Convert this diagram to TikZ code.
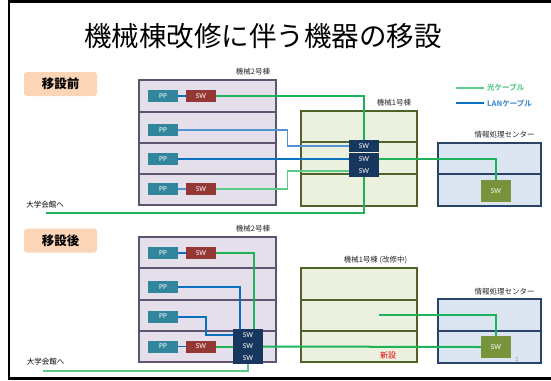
\documentclass[tikz,border=0pt]{standalone}
\usepackage{fontspec}
\setmainfont{Noto Sans CJK JP}
\newfontfamily\latf{Carlito}
\usetikzlibrary{calc}
\definecolor{ppc}{HTML}{31859C}
\definecolor{swr}{HTML}{953735}
\definecolor{swn}{HTML}{17375E}
\definecolor{swg}{HTML}{77933C}
\definecolor{b2fill}{HTML}{E5DFEC}
\definecolor{b2line}{HTML}{5F5470}
\definecolor{b1fill}{HTML}{EBF1DE}
\definecolor{b1line}{HTML}{4F6228}
\definecolor{icfill}{HTML}{DCE6F2}
\definecolor{icline}{HTML}{2A4468}
\definecolor{gline}{HTML}{1DB35A}
\definecolor{lgline}{HTML}{5CCB88}
\definecolor{bline}{HTML}{0A70C0}
\definecolor{lbline}{HTML}{4F93D2}
\definecolor{peach}{HTML}{FBD5B5}
\begin{document}
\begin{tikzpicture}[x=1pt,y=-1pt,
  box/.style={rectangle,inner sep=0pt,text=white,font=\latf\fontsize{7.5}{8}\selectfont},
  ppbox/.style={box,fill=ppc,minimum width=30pt,minimum height=12pt},
  swred/.style={box,fill=swr,minimum width=30pt,minimum height=12pt},
  swnavy/.style={box,fill=swn,minimum width=30pt,minimum height=12pt},
  swgreen/.style={box,fill=swg,minimum width=30pt,minimum height=22pt},
  brow/.style={rectangle,inner sep=0pt,line width=1.1pt},
  b2row/.style={brow,draw=b2line,fill=b2fill,minimum width=137pt},
  b1row/.style={brow,draw=b1line,fill=b1fill,minimum width=116pt},
  icrow/.style={brow,draw=icline,fill=icfill,minimum width=103pt},
  lbl/.style={inner sep=0pt,font=\fontsize{7.5}{8}\selectfont,text=black!85},
  tag/.style={rectangle,rounded corners=3pt,fill=peach,minimum width=73pt,minimum height=24pt,inner sep=0pt,font=\bfseries\fontsize{12.5}{13}\selectfont},
  gthin/.style={draw=gline,line width=1.1pt},
  lgthin/.style={draw=lgline,line width=1.1pt},
  bthin/.style={draw=bline,line width=1.1pt},
  lbthin/.style={draw=lbline,line width=1.1pt},
  gthick/.style={draw=gline,line width=2pt},
  bthick/.style={draw=bline,line width=2pt},
]
\useasboundingbox (0,0) rectangle (551,380);
% slide frame
\fill[black] (8,0) rectangle (551,2.5);
\fill[black] (7.7,0) rectangle (9.8,380);
\fill[black] (7.7,377) rectangle (551,380);

% title
\node[inner sep=0pt,font=\fontsize{27.5}{30}\selectfont] (title) at (263,36.5) {機械棟改修に伴う機器の移設};

% legend
\coordinate (lgA) at (456,88);
\node[anchor=west,inner sep=3pt,font=\bfseries\fontsize{7.5}{8}\selectfont,text=lgline] (lgAt) at (484,88) {光ケーブル};
\draw[lgthin,line width=1.3pt] (lgA) -- (lgAt.west);
\coordinate (lgB) at (456,103);
\node[anchor=west,inner sep=3pt,font=\bfseries\fontsize{7.5}{8}\selectfont,text=lbline] (lgBt) at (484,103) {LANケーブル};
\draw[bthin,line width=1.3pt] (lgB) -- (lgBt.west);

%%%%%%%%%% BEFORE %%%%%%%%%%
\node[tag] (tagA) at (60.5,84) {移設前};
\node[lbl] (b2Alab) at (253,72) {機械2号棟};
\node[b2row,minimum height=32pt] (b2a1) at (207.5,96) {};
\node[b2row,minimum height=31pt] (b2a2) at (207.5,127.5) {};
\node[b2row,minimum height=31pt] (b2a3) at (207.5,158.5) {};
\node[b2row,minimum height=31pt] (b2a4) at (207.5,189.5) {};

\node[lbl] (b1Alab) at (394,103) {機械1号棟};
\node[b1row,minimum height=31pt] (b1a1) at (359,126.5) {};
\node[b1row,minimum height=32pt] (b1a2) at (359,158) {};
\node[b1row,minimum height=32pt] (b1a3) at (359,190) {};

\node[lbl] (icAlab) at (504.5,135) {情報処理センター};
\node[icrow,minimum height=31pt] (ica1) at (489.5,158.5) {};
\node[icrow,minimum height=32pt] (ica2) at (489.5,190) {};

\node[ppbox] (ppA1) at (163,96) {PP};
\node[ppbox] (ppA2) at (163,130) {PP};
\node[ppbox] (ppA3) at (163,159) {PP};
\node[ppbox] (ppA4) at (163,189) {PP};
\node[swred] (swA1) at (201,96) {SW};
\node[swred] (swA4) at (201,189) {SW};

\node[swnavy,minimum height=11.5pt] (swB1) at (364,146) {SW};
\node[swnavy] (swB2) at (364,159) {SW};
\node[swnavy] (swB3) at (364,171) {SW};

\node[swgreen] (swC) at (496,191) {SW};

\node[lbl,text=black] (univA) at (45,205) {大学会館へ};
\coordinate (univAe) at (46,213);

% before connectors
\draw[bthin] (ppA1.east) -- (swA1.west);
\draw[lbthin] (ppA4.east) -- (swA4.west);
\draw[gthin] (swA1.east) -- (swA1.east -| swB1.north) -- (swB1.north);
\draw[lbthin] (ppA2.east) -- ++(109,0) |- (swB1.west);
\draw[bthin] (ppA3.east) -- (swB2.west);
\draw[lgthin] (swA4.east) -- ++(71,0) |- (swB3.west);
\draw[gthin] (univAe) -| (swB3.south);
\draw[gthin] (swB2.east) -| (swC.north);

%%%%%%%%%% AFTER %%%%%%%%%%
\node[tag] (tagB) at (60.5,240.5) {移設後};
\node[lbl] (b2Blab) at (253,229) {機械2号棟};
\node[b2row,minimum height=31pt] (b2b1) at (207.5,252.5) {};
\node[b2row,minimum height=32pt] (b2b2) at (207.5,284) {};
\node[b2row,minimum height=31pt] (b2b3) at (207.5,315.5) {};
\node[b2row,minimum height=31pt] (b2b4) at (207.5,346.5) {};

\node[lbl] (b1Blab) at (375.5,260) {機械1号棟 (改修中)};
\node[b1row,minimum height=32pt] (b1b1) at (359,284) {};
\node[b1row,minimum height=31pt] (b1b2) at (359,315.5) {};
\node[b1row,minimum height=31pt] (b1b3) at (359,346.5) {};

\node[lbl] (icBlab) at (504.5,292) {情報処理センター};
\node[icrow,minimum height=32pt] (icb1) at (489.5,315) {};
\node[icrow,minimum height=32pt] (icb2) at (489.5,347) {};

\node[ppbox] (ppD1) at (163,253) {PP};
\node[ppbox] (ppD2) at (163,287) {PP};
\node[ppbox] (ppD3) at (163,316.5) {PP};
\node[ppbox] (ppD4) at (163,346.5) {PP};
\node[swred] (swD1) at (201,253) {SW};
\node[swred] (swD4) at (201,346.5) {SW};

\node[swnavy,minimum height=11.7pt] (swE1) at (248,334.85) {SW};
\node[swnavy,minimum height=11.7pt] (swE2) at (248,346.5) {SW};
\node[swnavy,minimum height=11.7pt] (swE3) at (248,358.15) {SW};

\node[swgreen] (swF) at (496,347) {SW};

\node[lbl,text=black] (univB) at (45.5,362) {大学会館へ};
\coordinate (univBe) at (43,371);
\coordinate (b1src) at (379,315);

\node[inner sep=0pt,font=\fontsize{8}{9}\selectfont,text=red!90!black] (shinsetsu) at (388,355) {新設};
\node[inner sep=0pt,font=\latf\fontsize{6}{7}\selectfont,text=black!45] (pgno) at (517,360) {2};

% after connectors
\draw[bthick,line width=1.5pt] (ppD1.east) -- (swD1.west);
\draw[bthick,line width=1.5pt] (ppD4.east) -- (swD4.west);
\draw[gthick] (swD1.east) -| ([xshift=6pt]swE1.north);
\draw[bthick] (ppD2.east) -| ([xshift=-8pt]swE1.north);
\draw[bthick] (ppD3.east) -- ++(28,0) |- (swE1.west);
\draw[gthick] (swD4.east) -- (swE2.west);
\draw[gthick] (swE2.east) -- (swF.west);
\draw[gthick,draw=lgline] (swE3.south) |- (univBe);
\draw[gthin] (b1src) -| (swF.north);
\end{tikzpicture}
\end{document}
